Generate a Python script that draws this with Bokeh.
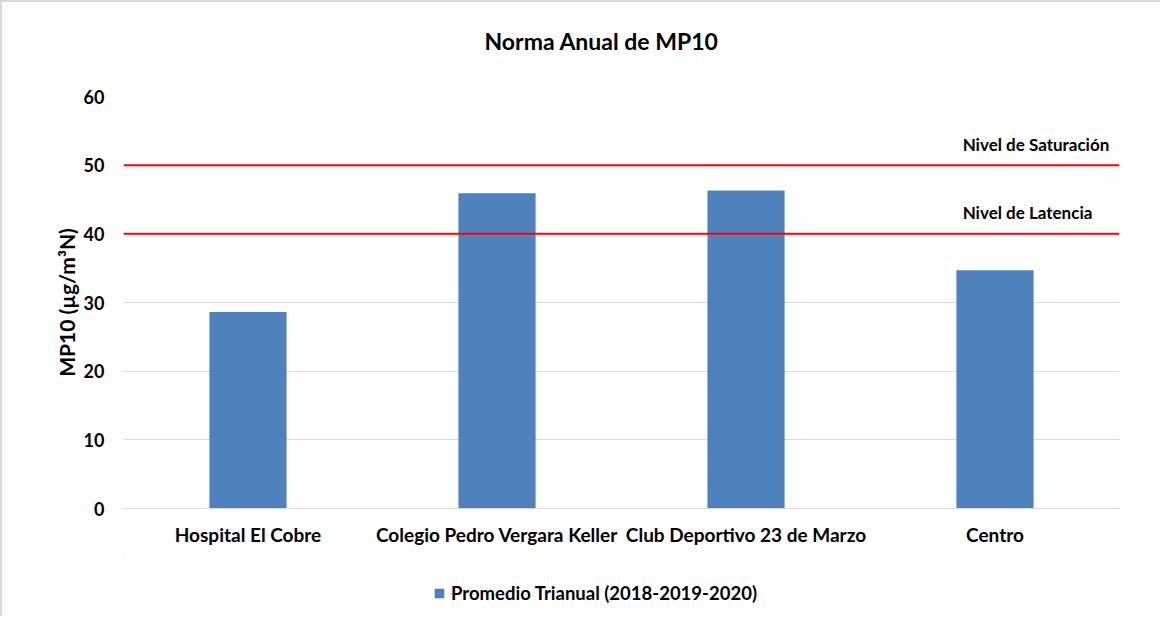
from bokeh.plotting import figure
from bokeh.layouts import column
from bokeh.models import Legend, LegendItem, FixedTicker, ColumnDataSource
from bokeh.core.properties import value
from bokeh.embed import file_html
from bokeh.resources import INLINE

categories = ["Hospital El Cobre", "Colegio Pedro Vergara Keller",
              "Club Deportivo 23 de Marzo", "Centro"]
promedio = [28.6, 45.9, 46.3, 34.7]
series_name = "Promedio Trianual (2018-2019-2020)"
thresholds = [50, 40]
threshold_labels = ["Nivel de Saturación", "Nivel de Latencia"]
y_ticks = [0, 10, 20, 30, 40, 50, 60]

FONT = "Lato"
BLUE = "#4F81BD"

xs = [i + 0.5 for i in range(len(categories))]

p = figure(width=1160, height=556, x_range=(0, len(categories)), y_range=(0, 60),
           output_backend="svg", toolbar_location=None,
           min_border_left=121, min_border_right=43, min_border_top=94, min_border_bottom=50)
p.styles = {"border-top": "2px solid #d9d9d9", "border-left": "2px solid #d9d9d9"}
p.outline_line_color = None

src = ColumnDataSource(dict(x=xs, top=promedio))
bars = p.vbar(x="x", top="top", width=0.31, source=src, fill_color=BLUE, line_color=None)

p.segment(x0=0, x1=len(categories), y0=thresholds, y1=thresholds, line_color="#FF0000", line_width=2)
p.text(x=[3.37] * len(thresholds), y=thresholds, text=threshold_labels,
       text_font=value(FONT), text_font_style="bold", text_font_size="17px",
       text_align="left", text_baseline="middle", y_offset=-21, text_color="#000000")

# title (trailing blank line lifts it towards the top of the chart)
p.title.text = "Norma Anual de MP10\n"
p.title.align = "left"
p.title.text_font = FONT
p.title.text_font_size = "23px"
p.title.text_font_style = "bold"
p.title.text_color = "#000000"
p.title.offset = 361
p.title.standoff = 28

# axes
p.xaxis.ticker = FixedTicker(ticks=xs)
p.xaxis.major_label_overrides = {x: c for x, c in zip(xs, categories)}
p.xaxis.major_tick_line_color = None
p.xaxis.minor_tick_line_color = None
p.xaxis.axis_line_color = "#d9d9d9"
p.xaxis.major_label_text_font = FONT
p.xaxis.major_label_text_font_style = "bold"
p.xaxis.major_label_text_font_size = "19px"
p.xaxis.major_label_standoff = 8
p.xaxis.major_label_text_color = "#000000"

p.yaxis.ticker = FixedTicker(ticks=y_ticks)
p.yaxis.major_tick_line_color = None
p.yaxis.minor_tick_line_color = None
p.yaxis.axis_line_color = None
p.yaxis.major_label_text_font = FONT
p.yaxis.major_label_text_font_style = "bold"
p.yaxis.major_label_text_font_size = "18px"
p.yaxis.major_label_standoff = 13
p.yaxis.major_label_text_color = "#000000"
p.yaxis.axis_label = "MP10 (µg/m³N)"
p.yaxis.axis_label_text_font = FONT
p.yaxis.axis_label_text_font_style = "bold"
p.yaxis.axis_label_text_font_size = "21px"
p.yaxis.axis_label_standoff = 2
p.yaxis.axis_label_text_color = "#000000"

p.xgrid.grid_line_color = None
p.ygrid.grid_line_color = "#d9d9d9"
p.ygrid.grid_line_width = 1

# legend strip below the chart (its bars lie outside its view; only the swatch shows)
p2 = figure(width=1160, height=60, x_range=(100, 101), y_range=(-2, -1),
            output_backend="svg", toolbar_location=None,
            min_border_left=0, min_border_right=0, min_border_top=0, min_border_bottom=0)
p2.styles = {"border-left": "2px solid #d9d9d9"}
p2.axis.visible = False
p2.grid.visible = False
p2.outline_line_color = None
swatch = p2.vbar(x="x", top="top", width=0.31, source=src, fill_color=BLUE, line_color=None)

legend = Legend(items=[LegendItem(label=series_name, renderers=[swatch])],
                orientation="horizontal", location=(310, 12),
                label_text_font=FONT, label_text_font_style="bold", label_text_font_size="18.5px",
                label_text_color="#000000",
                glyph_width=12, glyph_height=12, border_line_color=None,
                background_fill_alpha=0, margin=0, padding=4, label_standoff=6)
p2.add_layout(legend, "center")

layout = column(p, p2, spacing=0)
open("out.html", "w").write(file_html(layout, INLINE))
